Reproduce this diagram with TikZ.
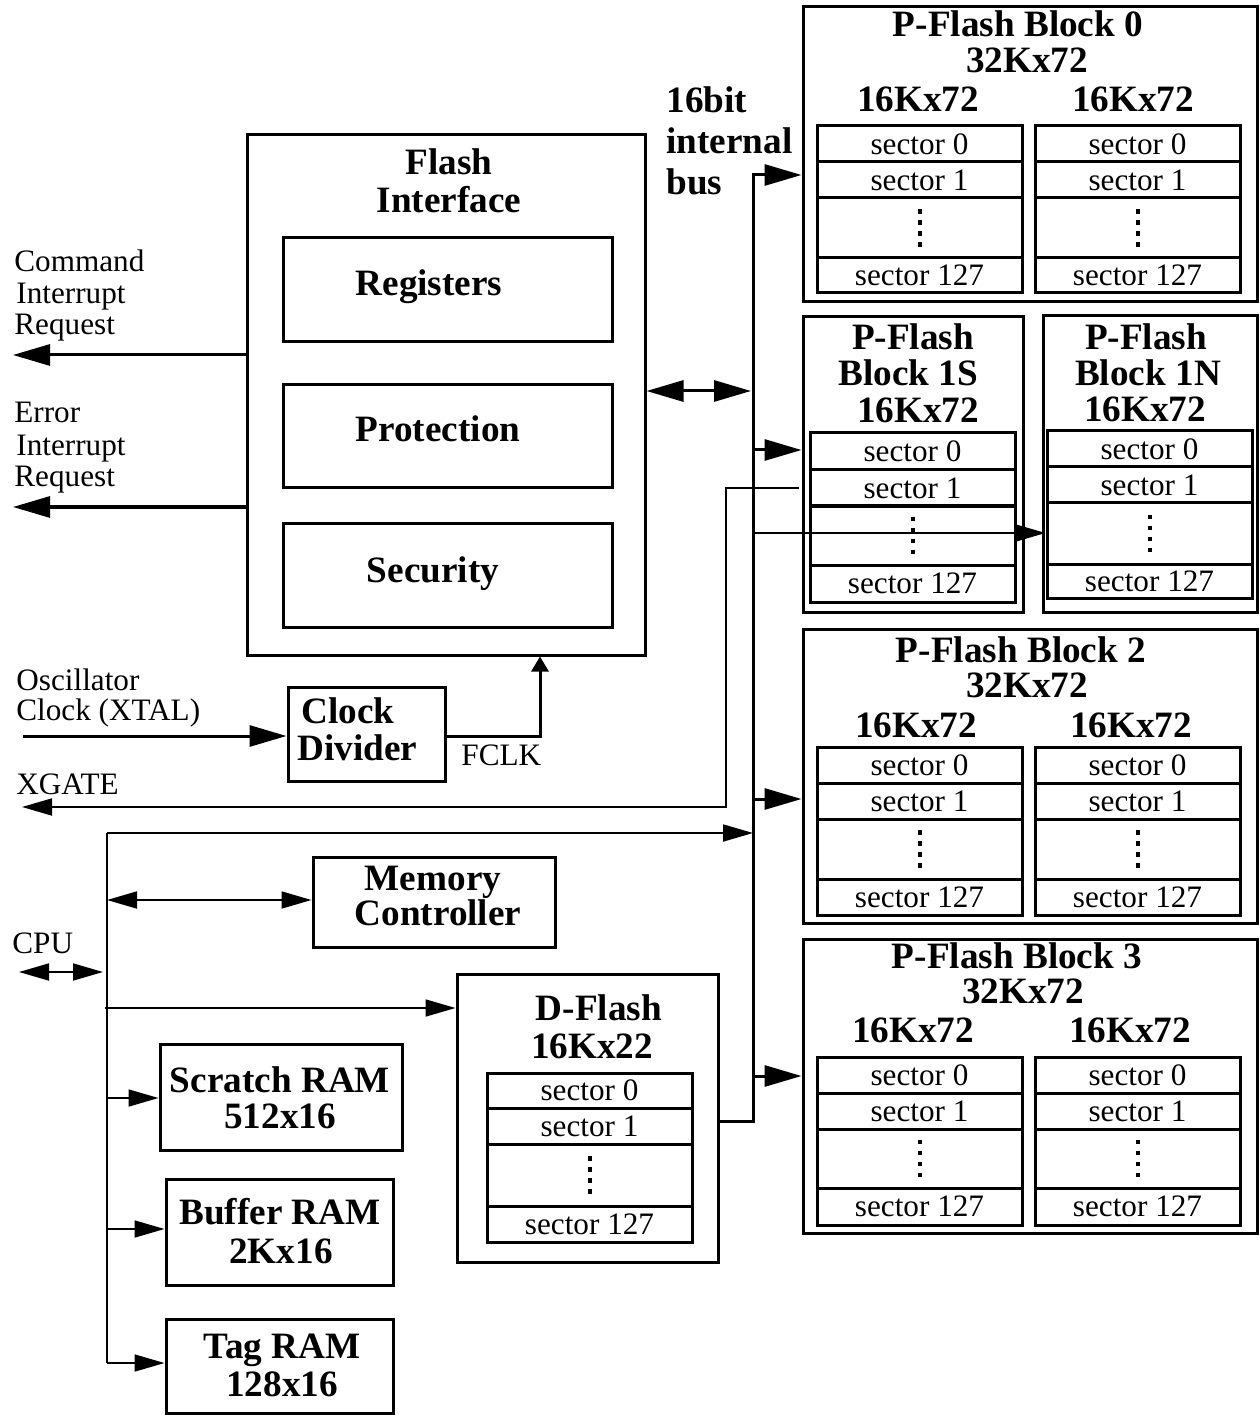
\documentclass[tikz,border=0pt]{standalone}
\usepackage{fontspec}
\setmainfont{Liberation Serif}
\usetikzlibrary{arrows.meta}
\newcommand\myBF{\fontsize{18.6}{20}\selectfont\bfseries}
\newcommand\myRF{\fontsize{15.6}{17}\selectfont}
\newcommand\bx[5]{\node[box, minimum width={(#4-#2)*0.5pt}, minimum height={(#5-#3)*0.5pt}] (#1) at ({(#2+#4)/2},{(#3+#5)/2}) {};}
\newcommand\secbox[8]{%
 \node[cell, minimum width={(#3-#2)*0.5pt}, minimum height={(#5-#4)*0.5pt}] (#1-0) at ({(#2+#3)/2},{(#4+#5)/2}) {sector 0};
 \node[cell, minimum width={(#3-#2)*0.5pt}, minimum height={(#6-#5)*0.5pt}] (#1-1) at ({(#2+#3)/2},{(#5+#6)/2}) {sector 1};
 \node[cell, minimum width={(#3-#2)*0.5pt}, minimum height={(#7-#6)*0.5pt}] (#1-d) at ({(#2+#3)/2},{(#6+#7)/2}) {};
 \node[cell, minimum width={(#3-#2)*0.5pt}, minimum height={(#8-#7)*0.5pt}] (#1-127) at ({(#2+#3)/2},{(#7+#8)/2}) {sector 127};
 \draw[dotsv] ([yshift=9.5pt]#1-d.center) -- ([yshift=-9.5pt]#1-d.center);
}
\begin{document}
\begin{tikzpicture}[x=0.5pt,y=-0.5pt,
  box/.style={draw, line width=1.5pt, inner sep=0pt},
  cell/.style={draw, line width=1.5pt, inner sep=0pt, font=\myRF},
  thk/.style={line width=1.5pt},
  thn/.style={line width=0.9pt},
  bt/.style={font=\myBF, inner sep=0pt, anchor=base},
  btl/.style={bt, anchor=base west},
  rt/.style={font=\myRF, inner sep=0pt, anchor=base},
  rtl/.style={rt, anchor=base west},
  big/.style={-{Triangle[length=18.5pt,width=10.5pt]}},
  bigd/.style={{Triangle[length=18.5pt,width=10.5pt]}-{Triangle[length=18.5pt,width=10.5pt]}},
  upt/.style={-{Triangle[length=7.5pt,width=8.5pt]}},
  sml/.style={-{Triangle[length=15pt,width=8.5pt]}},
  smld/.style={{Triangle[length=15pt,width=8.5pt]}-{Triangle[length=15pt,width=8.5pt]}},
  dotsv/.style={line width=2pt, dash pattern=on 2.4pt off 3.13pt}
]
\useasboundingbox (0,0) rectangle (1259,1416);

% ---------- boxes ----------
\bx{fi}{247}{135}{645}{655}
\bx{reg}{283}{238}{612}{342}
\bx{prot}{283}{385}{612}{488}
\bx{secu}{283}{523}{612}{627}
\bx{cd}{288}{687}{445}{781}
\bx{mc}{313}{857}{555}{947}
\bx{df}{457}{974}{718}{1262}
\bx{sr}{160}{1044}{402}{1150}
\bx{br}{166}{1179}{393}{1285}
\bx{tr}{166}{1319}{393}{1413}
\bx{b0}{803}{7}{1257.5}{302}
\bx{b1s}{803}{317}{1023}{612}
\bx{b1n}{1043}{316}{1257.5}{612}
\bx{b2}{803}{629}{1257.5}{923}
\bx{b3}{803}{939}{1257.5}{1233}

% ---------- sector stacks ----------
\secbox{dfs}{487}{692}{1073}{1108}{1144}{1206}{1242}
\secbox{b0l}{817}{1022}{126}{162}{198}{258}{293}
\secbox{b0r}{1035}{1240}{126}{162}{198}{258}{293}
\secbox{b1ss}{810}{1015}{433}{470}{506}{565}{602}
\secbox{b1ns}{1047}{1252}{431}{467}{503}{564}{598}
\secbox{b2l}{817}{1022}{747}{783}{819}{879}{915}
\secbox{b2r}{1035}{1240}{747}{783}{819}{879}{915}
\secbox{b3l}{817}{1022}{1057}{1093}{1129}{1188}{1225}
\secbox{b3r}{1035}{1240}{1057}{1093}{1129}{1188}{1225}

% ---------- bold labels ----------
\node[bt] (tfi1) at (449,175) {Flash};
\node[bt] (tfi2) at (449,213) {Interface};
\node[bt] (treg) at (429,296) {Registers};
\node[bt] (tprot) at (438,442) {Protection};
\node[bt] (tsec) at (433,582) {Security};
\node[btl] (tcd1) at (301,723) {Clock};
\node[btl] (tcd2) at (297,760) {Divider};
\node[bt] (tmc1) at (433,890) {Memory};
\node[bt] (tmc2) at (438,925) {Controller};
\node[bt] (tdf1) at (599,1020) {D-Flash};
\node[bt] (tdf2) at (592,1058) {16Kx22};
\node[bt] (tsr1) at (280,1092) {Scratch RAM};
\node[bt] (tsr2) at (280,1128) {512x16};
\node[bt] (tbr1) at (280,1224) {Buffer RAM};
\node[bt] (tbr2) at (281,1263) {2Kx16};
\node[bt] (ttr1) at (282,1358) {Tag RAM};
\node[bt] (ttr2) at (282,1396) {128x16};
\node[btl] (tbus1) at (666,113) {16bit};
\node[btl] (tbus2) at (666,154) {internal};
\node[btl] (tbus3) at (666,195) {bus};
\node[bt] (tb0a) at (1018,37) {P-Flash Block 0};
\node[bt] (tb0b) at (1027,73) {32Kx72};
\node[bt] (tb0c) at (918,112) {16Kx72};
\node[bt] (tb0d) at (1133,112) {16Kx72};
\node[bt] (tb1sa) at (913,350) {P-Flash};
\node[bt] (tb1sb) at (908,386) {Block 1S};
\node[bt] (tb1sc) at (918,423) {16Kx72};
\node[bt] (tb1na) at (1146,350) {P-Flash};
\node[bt] (tb1nb) at (1148,386) {Block 1N};
\node[bt] (tb1nc) at (1145,422) {16Kx72};
\node[bt] (tb2a) at (1021,662) {P-Flash Block 2};
\node[bt] (tb2b) at (1027,697) {32Kx72};
\node[bt] (tb2c) at (916,737) {16Kx72};
\node[bt] (tb2d) at (1131,737) {16Kx72};
\node[bt] (tb3a) at (1017,968) {P-Flash Block 3};
\node[bt] (tb3b) at (1023,1003) {32Kx72};
\node[bt] (tb3c) at (913,1042) {16Kx72};
\node[bt] (tb3d) at (1130,1042) {16Kx72};

% ---------- regular labels ----------
\node[rtl] (lc1) at (14,272) {Command};
\node[rtl] (lc2) at (16,304) {Interrupt};
\node[rtl] (lc3) at (14,335) {Request};
\node[rtl] (le1) at (14,423) {Error};
\node[rtl] (le2) at (16,456) {Interrupt};
\node[rtl] (le3) at (14,487) {Request};
\node[rtl] (lo1) at (16,690) {Oscillator};
\node[rtl] (lo2) at (16,720) {Clock (XTAL)};
\node[rtl] (lx) at (16,794) {XGATE};
\node[rtl] (lf) at (461,765) {FCLK};
\node[rtl] (lcpu) at (12,953) {CPU};

% ---------- coordinates ----------
\coordinate (cmdout) at (13,355);
\coordinate (errout) at (13,507);
\coordinate (yfi) at (751,391);
\coordinate (bus0) at (753,175);
\coordinate (busD) at (753,1121);
\coordinate (bus1) at (753,450);
\coordinate (bus2) at (753,799);
\coordinate (bus3) at (753,1076);
\coordinate (bus1n) at (754,533);
\coordinate (xg0) at (799,488);
\coordinate (xg1) at (726,488);
\coordinate (xg2) at (726,807);
\coordinate (xgout) at (22,807);
\coordinate (oscin) at (23,736);
\coordinate (fclk) at (540,736);
\coordinate (cpuL) at (19,972);
\coordinate (cpuR) at (103,972);
\coordinate (cb0) at (107,833);
\coordinate (cbT) at (753,833);
\coordinate (cbM) at (107,900);
\coordinate (cbD) at (105,1008);
\coordinate (cbS) at (107,1098);
\coordinate (cbB) at (107,1229);
\coordinate (cbG) at (107,1363);

% ---------- connectors ----------
\draw[thk,big] (fi.west |- cmdout) -- (cmdout);
\draw[thk,big] (fi.west |- errout) -- (errout);
\draw[thk,bigd] (fi.east |- yfi) -- (yfi);
\draw[thk,big] (df.east |- busD) -- (busD) -- (bus0) -- (b0.west |- bus0);
\draw[thk,big] (bus1) -- (b1s.west |- bus1);
\draw[thk,big] (bus2) -- (b2.west |- bus2);
\draw[thk,big] (bus3) -- (b3.west |- bus3);
\draw[thn,sml] (bus1n) -- (b1ns-d.west |- bus1n);
\draw[thn,sml] (xg0) -- (xg1) -- (xg2) -- (xgout);
\draw[thk,big] (oscin) -- (cd.west |- oscin);
\draw[thk,upt] (cd.east |- fclk) -- (fclk) -- (fclk |- fi.south);
\draw[thn,smld] (cpuL) -- (cpuR);
\draw[thn] (cb0) -- (cbG);
\draw[thn,sml] (cb0) -- (cbT);
\draw[thn,smld] (cbM) -- (mc.west |- cbM);
\draw[thn,sml] (cbD) -- (df.west |- cbD);
\draw[thn,sml] (cbS) -- (sr.west |- cbS);
\draw[thn,sml] (cbB) -- (br.west |- cbB);
\draw[thn,sml] (cbG) -- (tr.west |- cbG);
\end{tikzpicture}
\end{document}
